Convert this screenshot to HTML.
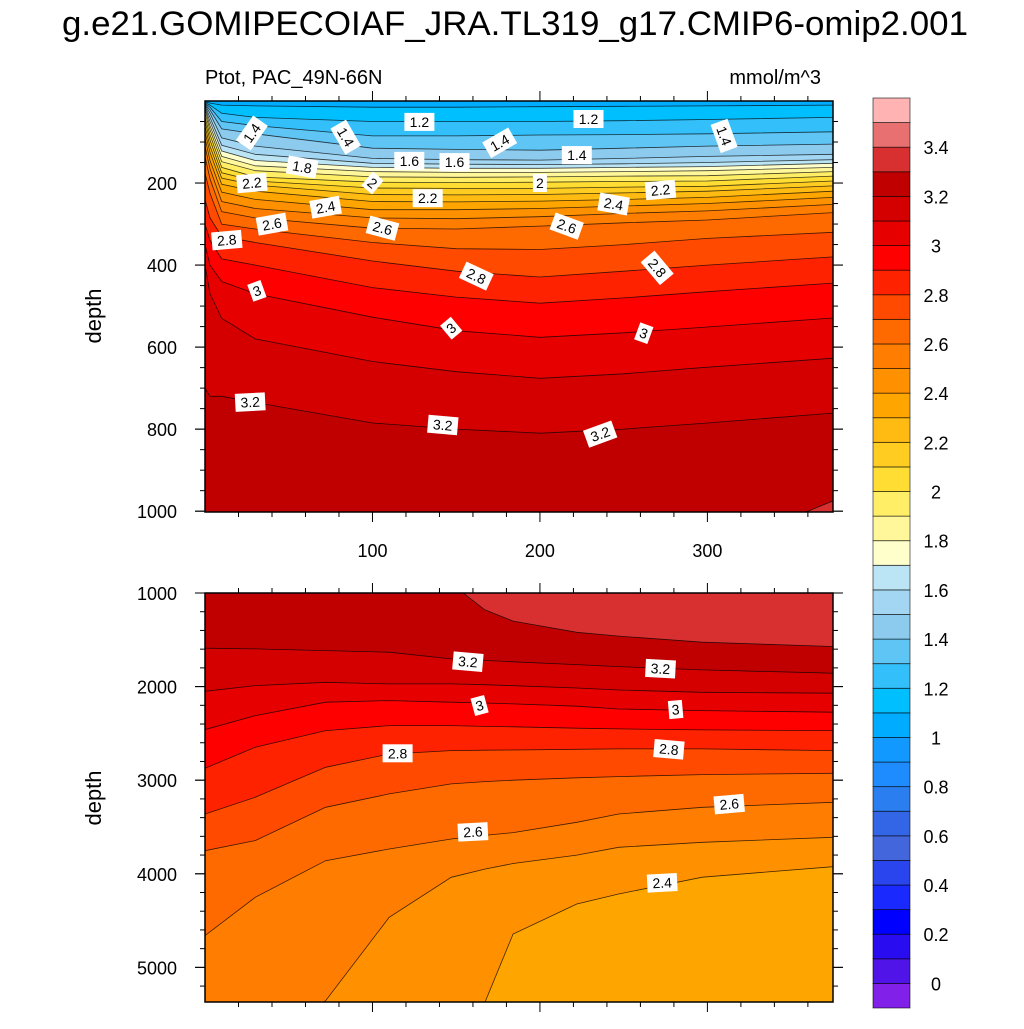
<!DOCTYPE html>
<html><head><meta charset="utf-8">
<style>
html,body{margin:0;padding:0;background:#fff;}
body{width:1024px;height:1024px;overflow:hidden;font-family:"Liberation Sans",Arial,sans-serif;}
svg text{font-family:"Liberation Sans",Arial,sans-serif;}
</style></head>
<body>
<svg id="chart" width="1024" height="1024" viewBox="0 0 1024 1024" xmlns="http://www.w3.org/2000/svg">
<text x="515" y="35" font-size="34" text-anchor="middle" textLength="906" lengthAdjust="spacingAndGlyphs">g.e21.GOMIPECOIAF_JRA.TL319_g17.CMIP6-omip2.001</text>
<text x="205" y="84" font-size="20">Ptot, PAC_49N-66N</text>
<text x="821" y="84" font-size="20" text-anchor="end">mmol/m^3</text>
<text transform="translate(101,316) rotate(-90)" font-size="22" text-anchor="middle">depth</text>
<text transform="translate(101,798) rotate(-90)" font-size="22" text-anchor="middle">depth</text>
<defs>
<clipPath id="clipTop"><rect x="205" y="101" width="628" height="411"/></clipPath>
<clipPath id="clipBot"><rect x="205" y="593" width="628" height="409"/></clipPath>
</defs>
<g id="topPanel"></g>
<g id="botPanel"></g>
<g id="colorbar"></g>
</svg>
<script>
// ---- colour levels (ascending, box i covers [-0.1+0.1*i, 0.1*i]) ----
const colors = ['#8020e8','#5014e8','#2a0cf0','#0000ff','#1a2aff','#2a44ee','#4466dd','#3366e6','#2a7ef0','#1e8cff','#1199ff','#00acff','#00bfff','#33c0fa','#5fc5f5','#8ccaee','#a3d6f2','#bbe4f4','#ffffcc','#fff799','#ffee66','#ffdd33','#ffcc22','#ffbb11','#ffa500','#ff9000','#ff7d00','#ff6a00','#ff4a00','#ff2200','#ff0000','#e60000','#d40000','#c00000','#d83030','#e87070','#ffb3b3'];
const cbarLabels = ['0','0.2','0.4','0.6','0.8','1','1.2','1.4','1.6','1.8','2','2.2','2.4','2.6','2.8','3','3.2','3.4'];
const cbarLabelValues = [0,0.2,0.4,0.6,0.8,1,1.2,1.4,1.6,1.8,2,2.2,2.4,2.6,2.8,3,3.2,3.4];

// ---- top panel (depth 0-1000) ----
const topX = [0,3,10,30,100,150,200,250,300,375];
const topLevels = [1.1,1.2,1.3,1.4,1.5,1.6,1.7,1.8,1.9,2.0,2.1,2.2,2.3,2.4,2.5,2.6,2.7,2.8,2.9,3.0,3.1,3.2,3.3];
const top_1_1 = [2,5,10,12,15,15,14,13,12,10];
const top_1_2 = [4,10,30,40,50,50,50,48,45,40];
const top_1_3 = [6,15,50,60,85,85,83,82,80,75];
const top_1_4 = [8,22,68,80,115,118,120,115,110,105];
const top_1_5 = [10,30,90,110,140,143,144,140,135,130];
const top_1_6 = [13,40,108,130,152,154,155,153,150,143];
const top_1_7 = [17,50,122,145,162,164,164,162,160,152];
const top_1_8 = [22,60,135,158,172,174,174,172,170,162];
const top_1_9 = [30,70,148,170,185,186,185,183,182,172];
const top_2_0 = [40,82,162,185,198,199,198,196,195,183];
const top_2_1 = [50,95,175,195,212,213,213,210,208,195];
const top_2_2 = [62,110,188,205,228,229,228,224,220,207];
const top_2_3 = [75,125,203,220,245,246,244,240,235,220];
const top_2_4 = [90,145,222,240,265,265,262,256,250,235];
const top_2_5 = [110,165,245,262,285,287,282,274,268,252];
const top_2_6 = [135,190,270,285,310,312,305,297,290,272];
const top_2_7 = [175,225,300,312,345,360,362,350,335,320];
const top_2_8 = [240,285,330,345,390,415,429,415,400,380];
const top_2_9 = [300,340,385,400,455,478,493,480,465,444];
const top_3_0 = [350,400,440,470,527,560,576,565,551,529];
const top_3_1 = [400,470,530,580,635,660,676,665,649,627];
const top_3_2 = [700,720,720,735,785,800,810,800,785,761];
const top_3_3 = [1100,1100,1100,1100,1100,1100,1100,1100,1100,975];
const topLines = [top_1_1,top_1_2,top_1_3,top_1_4,top_1_5,top_1_6,top_1_7,top_1_8,top_1_9,top_2_0,top_2_1,top_2_2,top_2_3,top_2_4,top_2_5,top_2_6,top_2_7,top_2_8,top_2_9,top_3_0,top_3_1,top_3_2,top_3_3];
const topYTicks = [200,400,600,800,1000];
const xTicks = [100,200,300];

// ---- bottom panel (depth 1000-5370) ----
const botX = [0,30,72,110,147,167,184,222,247,297,375];
const botLevels = [3.3,3.2,3.1,3.0,2.9,2.8,2.7,2.6,2.5,2.4];
const bot_3_3 = [900,900,900,900,900,1180,1300,1420,1460,1526,1572];
const bot_3_2 = [1590,1597,1615,1633,1704,1720,1735,1765,1786,1822,1857];
const bot_3_1 = [2050,1989,1954,1971,1971,1980,1990,2015,2036,2061,2071];
const bot_3_0 = [2460,2310,2167,2150,2167,2175,2185,2210,2239,2256,2274];
const bot_2_9 = [2873,2648,2470,2417,2417,2425,2430,2445,2452,2463,2470];
const bot_2_8 = [3361,3183,2862,2720,2684,2680,2678,2670,2666,2666,2684];
const bot_2_7 = [3753,3646,3290,3147,3040,3015,3000,2975,2962,2940,2926];
const bot_2_6 = [4661,4251,3860,3735,3628,3590,3560,3450,3361,3290,3236];
const bot_2_5 = [5800,5800,5356,4465,4038,3950,3890,3800,3717,3664,3610];
const bot_2_4 = [5800,5800,5800,5800,5800,5380,4643,4323,4216,4037,3924];
const botLines = [bot_3_3,bot_3_2,bot_3_1,bot_3_0,bot_2_9,bot_2_8,bot_2_7,bot_2_6,bot_2_5,bot_2_4];
const botYTicks = [1000,2000,3000,4000,5000];

// contour label annotations: day, depth, text, angle
const topLabDay = [28,84,128,229,310,176,222,122,149,58,100,200,28,133,272,72,244,40,106,216,13,162,270,31,147,262,27,142,236];
const topLabDep = [78,88,51,44,85,102,132,146,149,161,200,200,200,237,217,259,251,300,310,305,339,427,407,463,554,566,734,790,812];
const topLabTxt = ['1.4','1.4','1.2','1.2','1.4','1.4','1.4','1.6','1.6','1.8','2','2','2.2','2.2','2.2','2.4','2.4','2.6','2.6','2.6','2.8','2.8','2.8','3','3','3','3.2','3.2','3.2'];
const topLabAng = [-55,60,0,0,70,-30,0,0,0,10,40,0,-5,0,-5,-10,10,-10,15,20,-5,25,50,-20,-40,20,-3,5,-20];
const botLabDay = [157,272,164,281,115,277,160,313,273];
const botLabDep = [1734,1809,2202,2245,2713,2670,3553,3255,4096];
const botLabTxt = ['3.2','3.2','3','3','2.8','2.8','2.6','2.6','2.4'];
const botLabAng = [5,3,-15,-5,0,5,-3,-5,-3];

const NS='http://www.w3.org/2000/svg';
function mk(tag, attrs, parent){const e=document.createElementNS(NS,tag);for(const k in attrs)e.setAttribute(k,attrs[k]);parent.appendChild(e);return e;}
function colorFor(lo){return colors[Math.round((lo+0.1)/0.1)];}

function drawPanel(g, P, xs, lines, levels, ascending, yTicks, yMinor, xLabels, labDay, labDep, labTxt, labAng, clipId){
  const sx = d => P.x0 + (d - P.d0)/(P.d1-P.d0)*(P.x1-P.x0);
  const sy = v => P.y0 + (v - P.v0)/(P.v1-P.v0)*(P.y1-P.y0);
  const cg = mk('g',{'clip-path':'url(#'+clipId+')'},g);
  const bgLo = ascending ? levels[0]-0.1 : levels[0];
  const bg = mk('rect',{x:P.x0,y:P.y0,width:P.x1-P.x0,height:P.y1-P.y0,fill:colorFor(bgLo)},cg);
  
  
  const bottom = P.y1+50;
  lines.forEach((arr,i)=>{
    const lv = levels[i];
    const lo = ascending ? lv : lv-0.1;
    let pts = xs.map((d,j)=>sx(d).toFixed(1)+','+sy(arr[j]).toFixed(1));
    const poly = mk('polygon',{points:pts.join(' ')+' '+sx(xs[xs.length-1])+','+bottom+' '+sx(xs[0])+','+bottom,fill:colorFor(Math.round(lo*10)/10),stroke:'none'},cg);
    
    
  });
  lines.forEach((arr,i)=>{
    const pts = xs.map((d,j)=>sx(d).toFixed(1)+','+sy(arr[j]).toFixed(1));
    const pl = mk('polyline',{points:pts.join(' '),fill:'none',stroke:'#000','stroke-width':0.8,'stroke-opacity':0.75},cg);
    
    
  });
  labTxt.forEach((t,i)=>{
    const lg = mk('g',{transform:'translate('+sx(labDay[i]).toFixed(1)+','+sy(labDep[i]).toFixed(1)+') rotate('+labAng[i]+')'},cg);
    
    
    const w = t.length*8+6;
    mk('rect',{x:-w/2,y:-9,width:w,height:18,fill:'#fff'},lg);
    const tx = mk('text',{x:0,y:5,'font-size':14,'text-anchor':'middle',fill:'#000'},lg);
    tx.textContent=t;
  });
  const fr = mk('rect',{x:P.x0,y:P.y0,width:P.x1-P.x0,height:P.y1-P.y0,fill:'none',stroke:'#000','stroke-width':1.5},g);
  
  
  for(let d=20; d<P.d1; d+=20){
    const X=sx(d), major=(d%100===0), L=major?10:5;
    mk('line',{x1:X,y1:P.y1,x2:X,y2:P.y1+L,stroke:'#000','stroke-width':1},g);
    mk('line',{x1:X,y1:P.y0,x2:X,y2:P.y0-L,stroke:'#000','stroke-width':1},g);
  }
  if(xLabels){
    xTicks.forEach(d=>{
      const t=mk('text',{x:sx(d),y:P.y1+45,'font-size':18,'text-anchor':'middle'},g);
      
      
      t.textContent=d;
    });
  }
  for(let v=P.v0+yMinor; v<=P.v1+1; v+=yMinor){
    const Y=sy(v); if(Y>P.y1+1) break;
    const major = yTicks.indexOf(Math.round(v))>=0, L=major?10:5;
    mk('line',{x1:P.x0,y1:Y,x2:P.x0-L,y2:Y,stroke:'#000','stroke-width':1},g);
    mk('line',{x1:P.x1,y1:Y,x2:P.x1+L,y2:Y,stroke:'#000','stroke-width':1},g);
  }
  yTicks.forEach(v=>{
    const Y=sy(v);
    mk('line',{x1:P.x0,y1:Y,x2:P.x0-10,y2:Y,stroke:'#000','stroke-width':1},g);
    mk('line',{x1:P.x1,y1:Y,x2:P.x1+10,y2:Y,stroke:'#000','stroke-width':1},g);
    const t=mk('text',{x:177,y:Y+7,'font-size':18,'text-anchor':'end'},g);
    
    
    t.textContent=v;
  });
}

drawPanel(document.getElementById('topPanel'),{x0:205,x1:833,y0:101,y1:512,d0:0,d1:375,v0:0,v1:1002},topX,topLines,topLevels,true,topYTicks,50,true,topLabDay,topLabDep,topLabTxt,topLabAng,'clipTop');
drawPanel(document.getElementById('botPanel'),{x0:205,x1:833,y0:593,y1:1002,d0:0,d1:375,v0:1000,v1:5370},botX,botLines,botLevels,false,botYTicks,200,false,botLabDay,botLabDep,botLabTxt,botLabAng,'clipBot');

(function(){
  const g=document.getElementById('colorbar');
  const top=98, bot=1008, n=colors.length, h=(bot-top)/n;
  colors.forEach((c,i)=>{
    const y = bot-(i+1)*h;
    const r=mk('rect',{x:873,y:y,width:37,height:h,fill:c,stroke:'#000','stroke-width':0.8,'stroke-opacity':0.7},g);
    
    
  });
  cbarLabels.forEach((t,i)=>{
    const v=cbarLabelValues[i];
    const y = bot - (v+0.1)/0.1*h;
    const tx=mk('text',{x:936,y:y+7,'font-size':18,'text-anchor':'middle'},g);
    
    
    tx.textContent=t;
  });
})();
</script>
</body></html>
